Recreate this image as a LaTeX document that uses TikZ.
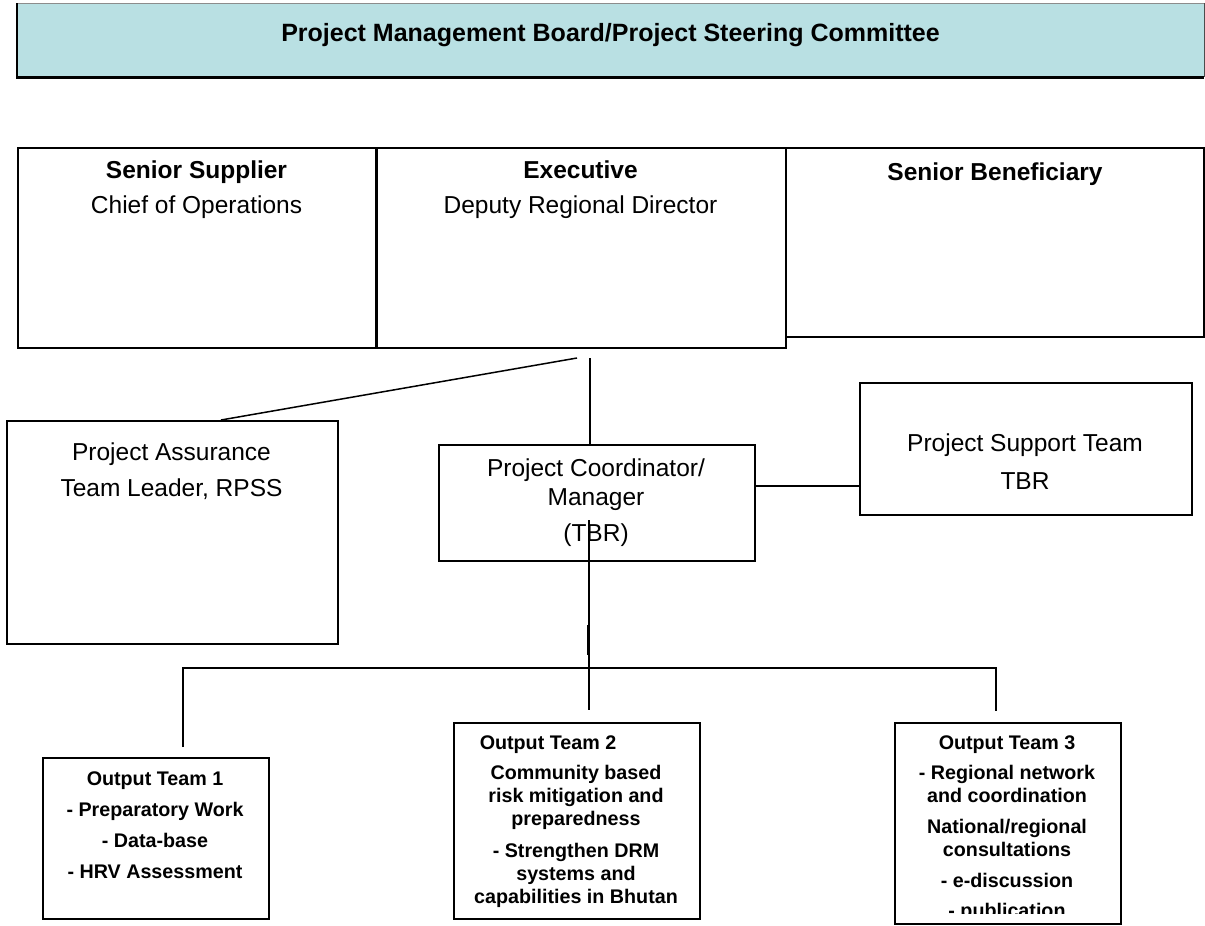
\documentclass[tikz,border=0pt]{standalone}
\usepackage{fontspec}
\setmainfont{Liberation Sans}
\usetikzlibrary{calc}
\definecolor{pmbfill}{RGB}{185,224,227}
\begin{document}
\begin{tikzpicture}[x=1pt,y=-1pt,
  box/.style={draw, line width=1.5pt, inner sep=0pt, anchor=north west},
  conn/.style={line width=1.5pt},
  nt/.style={inner sep=0pt, align=center, anchor=north, font=\fontsize{24.5}{28}\selectfont},
  bt/.style={inner sep=0pt, align=center, anchor=north, font=\fontsize{19.7}{23}\selectfont\bfseries},
  tt/.style={inner sep=0pt, anchor=north, font=\fontsize{25}{28}\selectfont\bfseries}
]
\useasboundingbox (0,0) rectangle (1205,926);

% Top board box
\node[fill=pmbfill, inner sep=0pt, anchor=north west, minimum width=1187pt, minimum height=74pt] (pmb) at (17,3) {};
\draw[black!45, line width=1pt] (pmb.north west) -- (pmb.north east);
\draw[black!70, line width=1.5pt] (pmb.north east) -- (pmb.south east);
\draw[black, line width=2.5pt] (pmb.north west) -- (pmb.south west) -- (pmb.south east);
\node[tt] (pmbt) at (610.5,23) {Project Management Board/Project Steering Committee};

% Senior row
\node[box, minimum width=359pt, minimum height=200pt] (ss) at (17,147) {};
\node[box, minimum width=409pt, minimum height=200pt] (ex) at (376,147) {};
\node[box, minimum width=418pt, minimum height=189pt] (sb) at (785,147) {};
\draw[line width=3pt] (ex.north west) -- (ex.south west);
\node[nt] (sst) at (196.5,161) {\textbf{Senior Supplier}\\[7pt]Chief of Operations};
\node[nt] (ext) at (580.5,161) {\textbf{Executive}\\[7pt]Deputy Regional Director};
\node[nt] (sbt) at (995,163) {\textbf{Senior Beneficiary}};

% Middle row
\node[box, minimum width=331pt, minimum height=223pt] (pa) at (6,420) {};
\node[nt] (pat) at (171.5,443) {Project Assurance\\[8pt]Team Leader, RPSS};
\node[box, minimum width=316pt, minimum height=116pt] (pc) at (438,444) {};
\node[nt] (pct) at (596,459) {Project Coordinator/\\[1pt]Manager\\[8pt](TBR)};
\node[box, minimum width=332pt, minimum height=132pt] (ps) at (859,382) {};
\node[nt] (pst) at (1025,434) {Project Support Team\\[10pt]TBR};

% Output teams
\node[box, minimum width=226pt, minimum height=161pt] (ot1) at (42,757) {};
\node[bt] (ot1t) at (155,772) {Output Team 1\\[8pt]- Preparatory Work\\[8pt]- Data-base\\[8pt]- HRV Assessment};
\node[box, minimum width=246pt, minimum height=196pt] (ot2) at (453,722) {};
\node[bt] (ot2t) at (576,736) {Output Team 2\hspace*{56pt}\\[7pt]Community based\\risk mitigation and\\preparedness\\[9pt]- Strengthen DRM\\systems and\\capabilities in Bhutan};
\node[box, minimum width=226pt, minimum height=201pt] (ot3) at (894,722) {};
\begin{scope}
\clip (894,722) rectangle (1120,913);
\node[bt] (ot3t) at (1007,736) {Output Team 3\\[7pt]- Regional network\\and coordination\\[8pt]National/regional\\consultations\\[8pt]- e-discussion\\[7pt]- publication};
\end{scope}

% Connectors
\coordinate (exa) at (577,358);
\coordinate (exb) at (590,358);
\draw[conn] (exa) -- (221,0 |- pa.north);
\draw[conn] (exb) -- (exb |- pc.north);
\draw[conn] (pc.east |- 0,486) -- (ps.west |- 0,486);

\coordinate (trunkTop) at (589,520);
\coordinate (trunkBot) at (589,710);
\coordinate (busL) at (183,668);
\coordinate (busR) at (996,668);
\coordinate (ot1e) at (183,747);
\coordinate (ot3e) at (996,711);
\coordinate (tickA) at (588,625);
\coordinate (tickB) at (588,655);
\draw[conn] (trunkTop) -- (trunkBot);
\draw[line width=2.5pt] (tickA) -- (tickB);
\draw[conn] (ot1e) -- (busL) -- (busR) -- (ot3e);
\end{tikzpicture}
\end{document}
